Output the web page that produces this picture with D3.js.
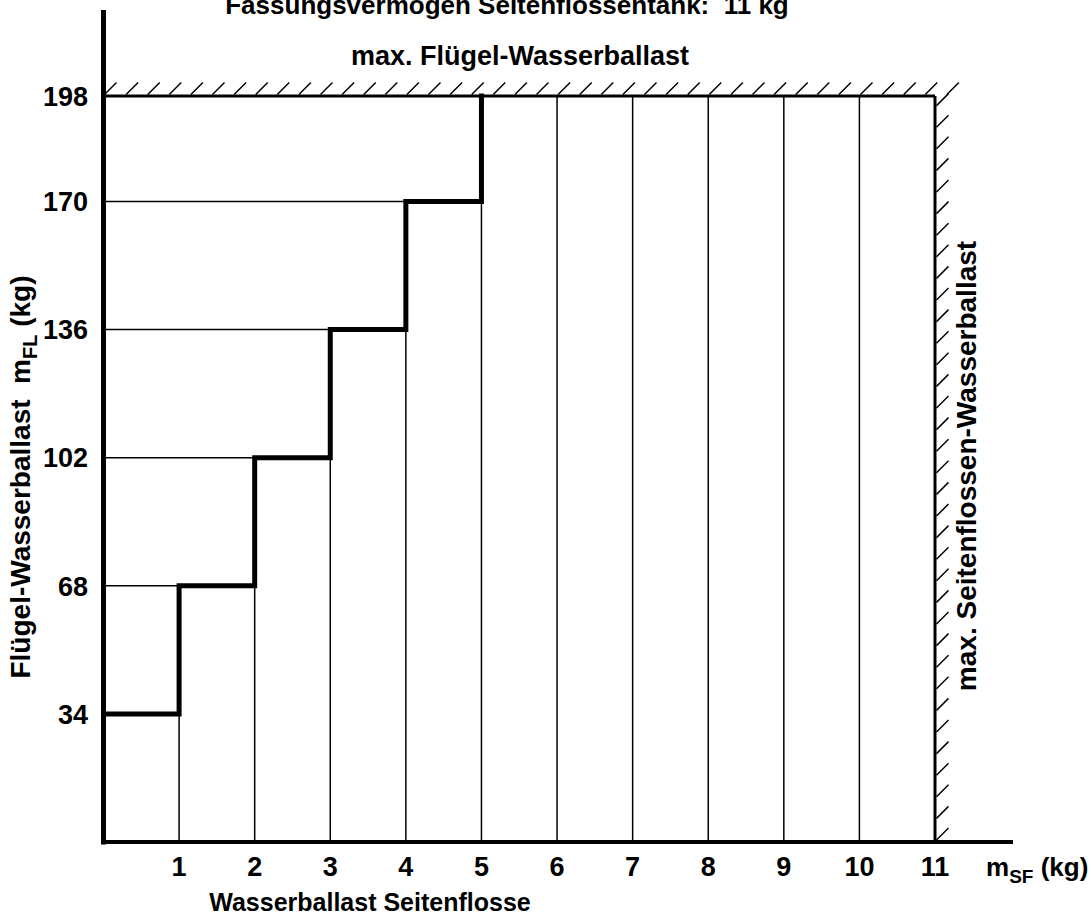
<!DOCTYPE html>
<html>
<head>
<meta charset="utf-8">
<script src="https://cdn.jsdelivr.net/npm/d3@7"></script>
<style>
  body { margin: 0; background: #fff; }
  text { font-family: "Liberation Sans", Arial, sans-serif; font-weight: bold; fill: #000; }
  .grid { stroke: #000; stroke-width: 1.5; fill: none; }
  .step { stroke: #000; stroke-width: 5; fill: none; stroke-linejoin: miter; stroke-linecap: square; }
  .hatch { stroke: #000; stroke-width: 1.5; }
</style>
</head>
<body>
<div id="chart"></div>
<script>
// Data
const sfTicks = [1, 2, 3, 4, 5, 6, 7, 8, 9, 10, 11];      // m_SF (kg)
const flTicks = [34, 68, 102, 136, 170, 198];             // m_FL (kg)
const stepSF = [0, 1, 2, 3, 4, 5];                        // m_SF where step rises
const stepFL = [34, 68, 102, 136, 170, 198];              // m_FL level reached
const maxSF = 11;
const maxFL = 198;

const width = 1091, height = 920;

const svg = d3.select("#chart").append("svg")
    .attr("width", width)
    .attr("height", height);

const x = d3.scaleLinear().domain([0, maxSF]).range([103.5, 935]);
const y = d3.scaleLinear().domain([0, maxFL]).range([842, 96]);

const line = d3.line().x(d => x(d[0])).y(d => y(d[1]));

// step boundary points
var stepPts = [[0, 0]];
stepSF.forEach(function(s, i) {
    stepPts.push([s, stepFL[i]]);
    if (i < stepSF.length - 1) stepPts.push([stepSF[i + 1], stepFL[i]]);
});

// thin vertical grid: from 0 up to where the step crosses
const gridGroup = svg.append("g");
gridGroup.selectAll("path.v")
    .data(sfTicks)
    .join("path")
    .attr("class", "grid v")
    .attr("d", function(k) {
        var i = stepSF.indexOf(k);
        var top = i > 0 ? stepFL[i - 1] : maxFL;
        return line([[k, 0], [k, top]]);
    });

// thin horizontal grid: from axis to the step
gridGroup.selectAll("path.h")
    .data(flTicks.slice(0, flTicks.length - 1))
    .join("path")
    .attr("class", "grid h")
    .attr("d", function(v) {
        var i = stepFL.indexOf(v);
        return line([[0, v], [stepSF[i], v]]);
    });

// limit lines
svg.append("path").attr("d", line([[0, maxFL], [maxSF, maxFL]]))
    .attr("stroke", "#000").attr("stroke-width", 3).attr("fill", "none");
svg.append("path").attr("d", line([[maxSF, 0], [maxSF, maxFL]]))
    .attr("stroke", "#000").attr("stroke-width", 3).attr("fill", "none");

// hatching
const hatchGap = 21.6, hatchLen = 12;
const hatchGroup = svg.append("g");
hatchGroup.selectAll("line.top")
    .data(d3.range(x(0) + 1, x(maxSF) + 12, hatchGap))
    .join("line")
    .attr("class", "hatch")
    .attr("x1", d => d).attr("y1", y(maxFL) - 1.5)
    .attr("x2", d => d + hatchLen).attr("y2", y(maxFL) - 1.5 - hatchLen);
hatchGroup.selectAll("line.right")
    .data(d3.range(y(0) - 2, y(maxFL) + 8, -hatchGap))
    .join("line")
    .attr("class", "hatch")
    .attr("x1", x(maxSF) + 1.5).attr("y1", d => d)
    .attr("x2", x(maxSF) + 1.5 + hatchLen).attr("y2", d => d - hatchLen);

// step line
svg.append("path").attr("class", "step").attr("d", line(stepPts));

// axes
svg.append("line").attr("x1", x(0)).attr("x2", x(0)).attr("y1", y(0) + 2).attr("y2", 10)
    .attr("stroke", "#000").attr("stroke-width", 5);
svg.append("line").attr("x1", x(0) - 2.5).attr("x2", 1013).attr("y1", y(0)).attr("y2", y(0))
    .attr("stroke", "#000").attr("stroke-width", 4);

// tick labels
svg.selectAll("text.xt")
    .data(sfTicks)
    .join("text")
    .attr("class", "xt")
    .attr("x", d => x(d))
    .attr("y", 876)
    .attr("text-anchor", "middle")
    .style("font-size", "27px")
    .text(d => d);

svg.selectAll("text.yt")
    .data(flTicks)
    .join("text")
    .attr("class", "yt")
    .attr("x", 88)
    .attr("y", d => y(d))
    .attr("dy", "0.36em")
    .attr("text-anchor", "end")
    .style("font-size", "27px")
    .text(d => d);

// axis unit labels
const sfUnit = svg.append("text").attr("x", 986).attr("y", 876).style("font-size", "26px");
sfUnit.append("tspan").text("m");
sfUnit.append("tspan").attr("dy", 7).style("font-size", "19px").text("SF");
sfUnit.append("tspan").attr("dy", -7).text(" (kg)");

svg.append("text")
    .attr("x", 370).attr("y", 911)
    .attr("text-anchor", "middle")
    .style("font-size", "25px")
    .text("Wasserballast Seitenflosse");

const yLab = svg.append("text")
    .attr("transform", "translate(30,477) rotate(-90)")
    .attr("text-anchor", "middle")
    .style("font-size", "28px");
yLab.append("tspan").text("Flügel-Wasserballast\u00a0\u00a0m");
yLab.append("tspan").attr("dy", 7).style("font-size", "20px").text("FL");
yLab.append("tspan").attr("dy", -7).text(" (kg)");

svg.append("text")
    .attr("transform", "translate(976,466) rotate(-90)")
    .attr("text-anchor", "middle")
    .style("font-size", "28px")
    .text("max. Seitenflossen-Wasserballast");

svg.append("text")
    .attr("x", 520).attr("y", 65)
    .attr("text-anchor", "middle")
    .style("font-size", "27px")
    .text("max. Flügel-Wasserballast");

svg.append("text")
    .attr("x", 507).attr("y", 14)
    .attr("text-anchor", "middle")
    .style("font-size", "26px")
    .text("Fassungsvermögen Seitenflossentank:\u00a0\u00a011 kg");
</script>
</body>
</html>
